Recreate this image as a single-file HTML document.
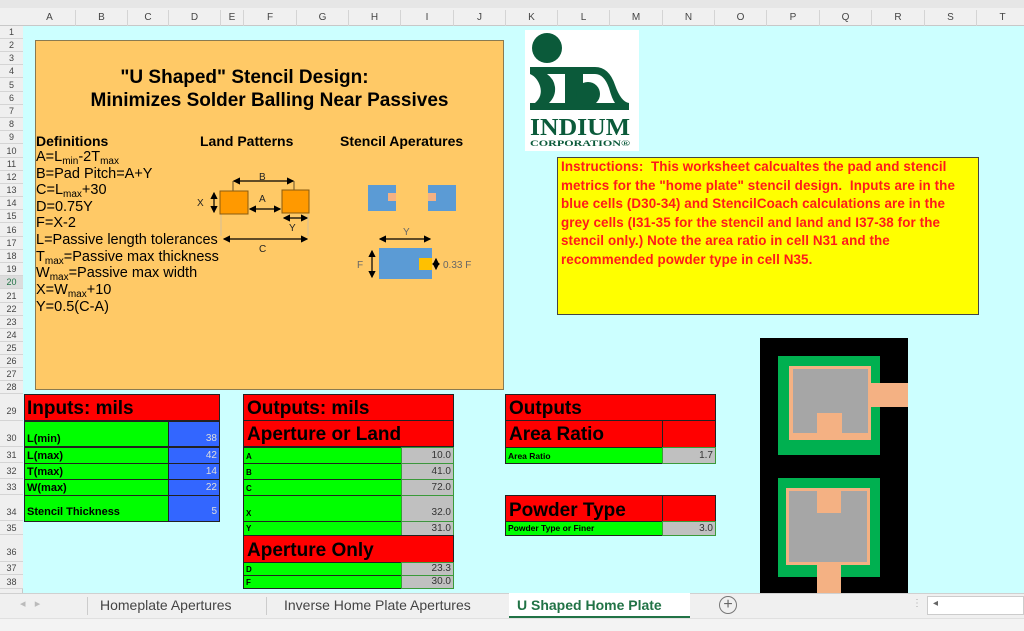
<!DOCTYPE html>
<html><head><meta charset="utf-8">
<style>
*{margin:0;padding:0;box-sizing:border-box}
body{width:1024px;height:631px;overflow:hidden;background:#ccffff;font-family:"Liberation Sans",Arial,sans-serif;position:relative}
.a{position:absolute}
.ch{position:absolute;top:10px;height:16px;font-size:10px;color:#444;text-align:center;line-height:16px;border-right:1px solid #d4d4d4}
.rh{position:absolute;left:0;width:23px;font-size:9px;color:#444;text-align:center;border-bottom:1px solid #d4d4d4;background:#efefef}
.cell{position:absolute;border:1px solid #222;font-weight:bold;overflow:hidden;white-space:nowrap}
.red{background:#ff0000;color:#000}
.grn{background:#00ff00;font-size:10px;padding-left:2px}
.blu{background:#3366ff;color:#ddd;font-size:10px;text-align:right;padding-right:2px;font-weight:normal}
.gry{background:#c0c0c0;color:#333;font-size:10px;text-align:right;padding-right:2px;font-weight:normal;border-color:#3a9a3a}
.def{position:absolute;left:36px;font-size:14.5px;color:#000}
sub{font-size:10px;vertical-align:-3px}
</style></head><body>
<div class="a" style="left:0;top:0;width:1024px;height:26px;background:#f0f0f0;border-bottom:1px solid #c8c8c8"></div>
<div class="a" style="left:0;top:0;width:1024px;height:8px;background:#e6e6e6"></div>
<div class="a" style="left:0;top:26px;width:23px;height:567px;background:#efefef;border-right:1px solid #c8c8c8"></div>

<div class="ch" style="left:24px;width:52px">A</div>
<div class="ch" style="left:76px;width:52px">B</div>
<div class="ch" style="left:128px;width:41px">C</div>
<div class="ch" style="left:169px;width:52px">D</div>
<div class="ch" style="left:221px;width:23px">E</div>
<div class="ch" style="left:244px;width:53px">F</div>
<div class="ch" style="left:297px;width:52px">G</div>
<div class="ch" style="left:349px;width:52px">H</div>
<div class="ch" style="left:401px;width:53px">I</div>
<div class="ch" style="left:454px;width:52px">J</div>
<div class="ch" style="left:506px;width:52px">K</div>
<div class="ch" style="left:558px;width:52px">L</div>
<div class="ch" style="left:610px;width:53px">M</div>
<div class="ch" style="left:663px;width:52px">N</div>
<div class="ch" style="left:715px;width:52px">O</div>
<div class="ch" style="left:767px;width:53px">P</div>
<div class="ch" style="left:820px;width:52px">Q</div>
<div class="ch" style="left:872px;width:53px">R</div>
<div class="ch" style="left:925px;width:52px">S</div>
<div class="ch" style="left:977px;width:52px">T</div>

<div class="rh" style="top:26px;height:13px;line-height:13px">1</div>
<div class="rh" style="top:39px;height:13px;line-height:13px">2</div>
<div class="rh" style="top:52px;height:13px;line-height:13px">3</div>
<div class="rh" style="top:65px;height:13px;line-height:13px">4</div>
<div class="rh" style="top:78px;height:14px;line-height:14px">5</div>
<div class="rh" style="top:92px;height:13px;line-height:13px">6</div>
<div class="rh" style="top:105px;height:13px;line-height:13px">7</div>
<div class="rh" style="top:118px;height:13px;line-height:13px">8</div>
<div class="rh" style="top:131px;height:13px;line-height:13px">9</div>
<div class="rh" style="top:144px;height:14px;line-height:14px">10</div>
<div class="rh" style="top:158px;height:13px;line-height:13px">11</div>
<div class="rh" style="top:171px;height:13px;line-height:13px">12</div>
<div class="rh" style="top:184px;height:13px;line-height:13px">13</div>
<div class="rh" style="top:197px;height:13px;line-height:13px">14</div>
<div class="rh" style="top:210px;height:13px;line-height:13px">15</div>
<div class="rh" style="top:223px;height:14px;line-height:14px">16</div>
<div class="rh" style="top:237px;height:13px;line-height:13px">17</div>
<div class="rh" style="top:250px;height:13px;line-height:13px">18</div>
<div class="rh" style="top:263px;height:13px;line-height:13px">19</div>
<div class="rh" style="top:276px;height:13px;line-height:13px;color:#217346;background:#dcdcdc">20</div>
<div class="rh" style="top:289px;height:14px;line-height:14px">21</div>
<div class="rh" style="top:303px;height:13px;line-height:13px">22</div>
<div class="rh" style="top:316px;height:13px;line-height:13px">23</div>
<div class="rh" style="top:329px;height:13px;line-height:13px">24</div>
<div class="rh" style="top:342px;height:13px;line-height:13px">25</div>
<div class="rh" style="top:355px;height:13px;line-height:13px">26</div>
<div class="rh" style="top:368px;height:13px;line-height:13px">27</div>
<div class="rh" style="top:381px;height:13px;line-height:13px">28</div>
<div class="rh" style="top:394px;height:27px;line-height:34px">29</div>
<div class="rh" style="top:421px;height:26px;line-height:34px">30</div>
<div class="rh" style="top:447px;height:16px;line-height:16px">31</div>
<div class="rh" style="top:463px;height:16px;line-height:16px">32</div>
<div class="rh" style="top:479px;height:16px;line-height:16px">33</div>
<div class="rh" style="top:495px;height:26px;line-height:34px">34</div>
<div class="rh" style="top:521px;height:14px;line-height:14px">35</div>
<div class="rh" style="top:535px;height:27px;line-height:34px">36</div>
<div class="rh" style="top:562px;height:13px;line-height:13px">37</div>
<div class="rh" style="top:575px;height:14px;line-height:14px">38</div>

<div class="a" style="left:35px;top:40px;width:469px;height:350px;background:#ffc966;border:1px solid #8a7a50"></div>
<div class="a" style="left:35px;top:66px;width:469px;text-align:center;font-weight:bold;font-size:19px;line-height:23px;color:#000"><span style="margin-left:-50px">"U Shaped" Stencil Design:</span><br>Minimizes Solder Balling Near Passives</div>
<div class="a" style="left:36px;top:133px;font-size:14px;font-weight:bold">Definitions</div>
<div class="a" style="left:200px;top:133px;font-size:14px;font-weight:bold">Land Patterns</div>
<div class="a" style="left:340px;top:133px;font-size:14px;font-weight:bold">Stencil Aperatures</div>
<div class="def" style="top:149px">A=L<sub>min</sub>-2T<sub>max</sub></div>
<div class="def" style="top:166px">B=Pad Pitch=A+Y</div>
<div class="def" style="top:182px">C=L<sub>max</sub>+30</div>
<div class="def" style="top:199px">D=0.75Y</div>
<div class="def" style="top:215px">F=X-2</div>
<div class="def" style="top:232px">L=Passive length tolerances</div>
<div class="def" style="top:249px">T<sub>max</sub>=Passive max thickness</div>
<div class="def" style="top:265px">W<sub>max</sub>=Passive max width</div>
<div class="def" style="top:282px">X=W<sub>max</sub>+10</div>
<div class="def" style="top:299px">Y=0.5(C-A)</div>

<svg class="a" style="left:0;top:0" width="520" height="320" font-family="Liberation Sans,sans-serif" font-size="10" fill="#222">
<defs><marker id="ar" markerWidth="6" markerHeight="6" refX="5" refY="3" orient="auto-start-reverse"><path d="M0,0L6,3L0,6z" fill="#000"/></marker></defs>
<g stroke="#000" stroke-width="1.2">
<line x1="234" y1="181" x2="293" y2="181" marker-start="url(#ar)" marker-end="url(#ar)"/>
<line x1="233" y1="181" x2="233" y2="191" stroke-width=".6"/>
<line x1="294" y1="181" x2="294" y2="190" stroke-width=".6"/>
<line x1="214" y1="193" x2="214" y2="212" marker-start="url(#ar)" marker-end="url(#ar)"/>
<line x1="250" y1="209" x2="280" y2="209" marker-start="url(#ar)" marker-end="url(#ar)"/>
<line x1="284" y1="218" x2="307" y2="218" marker-start="url(#ar)" marker-end="url(#ar)"/>
<line x1="224" y1="239" x2="307" y2="239" marker-start="url(#ar)" marker-end="url(#ar)"/>
<line x1="380" y1="239" x2="430" y2="239" marker-start="url(#ar)" marker-end="url(#ar)"/>
<line x1="372" y1="251" x2="372" y2="277" marker-start="url(#ar)" marker-end="url(#ar)"/>
<line x1="436" y1="259" x2="436" y2="269" marker-start="url(#ar)" marker-end="url(#ar)"/>
</g>
<g stroke="#bbb" stroke-width=".6"><line x1="221" y1="214" x2="221" y2="236"/><line x1="308" y1="214" x2="308" y2="236"/></g>
<rect x="220" y="191" width="28" height="23" fill="#ff9900" stroke="#8a5a10"/>
<rect x="282" y="190" width="27" height="23" fill="#ff9900" stroke="#8a5a10"/>
<text x="259" y="180">B</text><text x="197" y="206">X</text><text x="259" y="202">A</text><text x="289" y="231">Y</text><text x="259" y="252">C</text>
<rect x="368" y="185" width="28" height="26" fill="#5b9bd5"/><rect x="388" y="193" width="8" height="8" fill="#f4b183"/>
<rect x="428" y="185" width="28" height="26" fill="#5b9bd5"/><rect x="428" y="193" width="8" height="8" fill="#f4b183"/>
<rect x="379" y="248" width="53" height="31" fill="#5b9bd5"/><rect x="419" y="258" width="13" height="12" fill="#ffc000"/>
<text x="403" y="235" fill="#666">Y</text><text x="357" y="268" fill="#666">F</text><text x="443" y="268" fill="#666">0.33 F</text>
</svg>

<!-- logo -->
<div class="a" style="left:525px;top:30px;width:114px;height:121px;background:#fff"></div>
<svg class="a" style="left:525px;top:30px" width="114" height="121">
<circle cx="22" cy="18" r="15" fill="#0b5a3a"/>
<path d="M5,37 H70 Q84,37 90,55 Q96,72 104,73 V80 H5 V73 H10 Q18,66 15,56 Q12,47 5,44 Z" fill="#0b5a3a"/>
<path d="M22,44 H40 V73 H24 Q31,66 30,57 Q29,49 22,44 Z" fill="#fff"/>
<path d="M50,44 H70 Q79,44 84,58 Q87,69 90,73 H50 Z" fill="#fff"/>
<rect x="50" y="44" width="8" height="29" fill="#0b5a3a"/>
<circle cx="63" cy="64" r="12" fill="#0b5a3a"/>
<text x="55" y="105" text-anchor="middle" font-family="Liberation Serif,serif" font-weight="bold" font-size="24" fill="#0b5a3a" textLength="100" lengthAdjust="spacingAndGlyphs">INDIUM</text>
<text x="55" y="116" text-anchor="middle" font-family="Liberation Serif,serif" font-weight="bold" font-size="8" fill="#0b5a3a" textLength="100" lengthAdjust="spacingAndGlyphs">CORPORATION®</text>
</svg>

<div class="a" style="left:557px;top:157px;width:422px;height:158px;background:#ffff00;border:1px solid #444;color:#ff1a1a;font-weight:bold;font-size:13.4px;line-height:18.5px;padding:0 3px;letter-spacing:0.1px">Instructions:&nbsp; This worksheet calcualtes the pad and stencil metrics for the "home plate" stencil design.&nbsp; Inputs are in the blue cells (D30-34) and StencilCoach calculations are in the grey cells (I31-35 for the stencil and land and I37-38 for the stencil only.) Note the area ratio in cell N31 and the recommended powder type in cell N35.</div>

<div class="cell red" style="left:24px;top:394px;width:196px;height:27px;font-size:19px;line-height:27px;padding-left:2px">Inputs: mils</div>
<div class="cell grn" style="left:24px;top:421px;width:145px;height:26px;line-height:34px;font-size:11px">L(min)</div>
<div class="cell blu" style="left:168px;top:421px;width:52px;height:26px;line-height:34px">38</div>
<div class="cell grn" style="left:24px;top:447px;width:145px;height:17px;line-height:16px;font-size:11px">L(max)</div>
<div class="cell blu" style="left:168px;top:447px;width:52px;height:17px;line-height:16px">42</div>
<div class="cell grn" style="left:24px;top:463px;width:145px;height:17px;line-height:16px;font-size:11px">T(max)</div>
<div class="cell blu" style="left:168px;top:463px;width:52px;height:17px;line-height:16px">14</div>
<div class="cell grn" style="left:24px;top:479px;width:145px;height:17px;line-height:16px;font-size:11px">W(max)</div>
<div class="cell blu" style="left:168px;top:479px;width:52px;height:17px;line-height:16px">22</div>
<div class="cell grn" style="left:24px;top:495px;width:145px;height:27px;line-height:32px;font-size:11px">Stencil Thickness</div>
<div class="cell blu" style="left:168px;top:495px;width:52px;height:27px;line-height:32px">5</div>

<div class="cell red" style="left:243px;top:394px;width:211px;height:27px;font-size:19px;line-height:27px;padding-left:3px">Outputs: mils</div>
<div class="cell red" style="left:243px;top:420px;width:211px;height:27px;font-size:19px;line-height:28px;padding-left:3px">Aperture or Land</div>
<div class="cell grn" style="left:243px;top:447px;width:159px;height:17px;line-height:18px;font-size:8px">A</div>
<div class="cell gry" style="left:401px;top:447px;width:53px;height:17px;line-height:16px">10.0</div>
<div class="cell grn" style="left:243px;top:463px;width:159px;height:17px;line-height:18px;font-size:8px">B</div>
<div class="cell gry" style="left:401px;top:463px;width:53px;height:17px;line-height:16px">41.0</div>
<div class="cell grn" style="left:243px;top:479px;width:159px;height:17px;line-height:18px;font-size:8px">C</div>
<div class="cell gry" style="left:401px;top:479px;width:53px;height:17px;line-height:16px">72.0</div>
<div class="cell grn" style="left:243px;top:495px;width:159px;height:27px;line-height:36px;font-size:8px">X</div>
<div class="cell gry" style="left:401px;top:495px;width:53px;height:27px;line-height:34px">32.0</div>
<div class="cell grn" style="left:243px;top:521px;width:159px;height:15px;line-height:14px;font-size:8px">Y</div>
<div class="cell gry" style="left:401px;top:521px;width:53px;height:15px;line-height:14px">31.0</div>
<div class="cell red" style="left:243px;top:535px;width:211px;height:28px;font-size:19px;line-height:30px;padding-left:3px">Aperture Only</div>
<div class="cell grn" style="left:243px;top:562px;width:159px;height:14px;line-height:13px;font-size:8px">D</div>
<div class="cell gry" style="left:401px;top:562px;width:53px;height:14px;line-height:12px">23.3</div>
<div class="cell grn" style="left:243px;top:575px;width:159px;height:14px;line-height:13px;font-size:8px">F</div>
<div class="cell gry" style="left:401px;top:575px;width:53px;height:14px;line-height:12px">30.0</div>

<div class="cell red" style="left:505px;top:394px;width:211px;height:27px;font-size:19px;line-height:28px;padding-left:3px">Outputs</div>
<div class="cell red" style="left:505px;top:420px;width:158px;height:28px;font-size:19px;line-height:28px;padding-left:3px">Area Ratio</div>
<div class="cell red" style="left:662px;top:420px;width:54px;height:28px"></div>
<div class="cell grn" style="left:505px;top:447px;width:158px;height:17px;line-height:16px;font-size:8.5px">Area Ratio</div>
<div class="cell gry" style="left:662px;top:447px;width:54px;height:17px;line-height:16px">1.7</div>
<div class="cell red" style="left:505px;top:495px;width:158px;height:27px;font-size:19px;line-height:29px;padding-left:3px">Powder Type</div>
<div class="cell red" style="left:662px;top:495px;width:54px;height:27px"></div>
<div class="cell grn" style="left:505px;top:521px;width:158px;height:15px;line-height:13px;font-size:8.5px">Powder Type or Finer</div>
<div class="cell gry" style="left:662px;top:521px;width:54px;height:15px;line-height:13px">3.0</div>

<svg class="a" style="left:760px;top:338px" width="148" height="255">
<rect x="0" y="0" width="148" height="255" fill="#000"/>
<rect x="18" y="18" width="102" height="99" fill="#00b050"/>
<rect x="29" y="28" width="82" height="74" fill="#f4b183"/>
<rect x="33" y="31" width="75" height="64" fill="#a6a6a6"/>
<rect x="57" y="75" width="25" height="27" fill="#f4b183"/>
<rect x="108" y="45" width="40" height="24" fill="#f4b183"/>
<rect x="18" y="140" width="102" height="99" fill="#00b050"/>
<rect x="26" y="150" width="84" height="77" fill="#f4b183"/>
<rect x="29" y="153" width="78" height="71" fill="#a6a6a6"/>
<rect x="57" y="153" width="24" height="22" fill="#f4b183"/>
<rect x="57" y="224" width="24" height="31" fill="#f4b183"/>
</svg>

<div class="a" style="left:0;top:593px;width:1024px;height:25px;background:#f0f0f0;border-top:1px solid #d0d0d0"></div>
<div class="a" style="left:0;top:618px;width:1024px;height:13px;background:#f3f3f3;border-top:1px solid #e0e0e0"></div>
<div class="a" style="left:20px;top:597px;font-size:11px;color:#bbb">◂ &nbsp;&nbsp;▸</div>
<div class="a" style="left:87px;top:597px;width:1px;height:18px;background:#ccc"></div>
<div class="a" style="left:100px;top:597px;font-size:14px;color:#444">Homeplate Apertures</div>
<div class="a" style="left:266px;top:597px;width:1px;height:18px;background:#ccc"></div>
<div class="a" style="left:284px;top:597px;font-size:14px;color:#444">Inverse Home Plate Apertures</div>
<div class="a" style="left:509px;top:593px;width:181px;height:25px;background:#fff;border-bottom:2px solid #217346"></div>
<div class="a" style="left:517px;top:597px;font-size:14px;color:#217346;font-weight:bold">U Shaped Home Plate</div>
<div class="a" style="left:719px;top:596px;width:18px;height:18px;border:1.5px solid #777;border-radius:50%;text-align:center;line-height:15px;font-size:16px;color:#666">+</div>
<div class="a" style="left:912px;top:598px;font-size:10px;color:#aaa">⋮</div>
<div class="a" style="left:927px;top:596px;width:97px;height:19px;background:#fff;border:1px solid #ccc"></div>
<div class="a" style="left:933px;top:598px;font-size:10px;color:#666">◂</div>
</body></html>
